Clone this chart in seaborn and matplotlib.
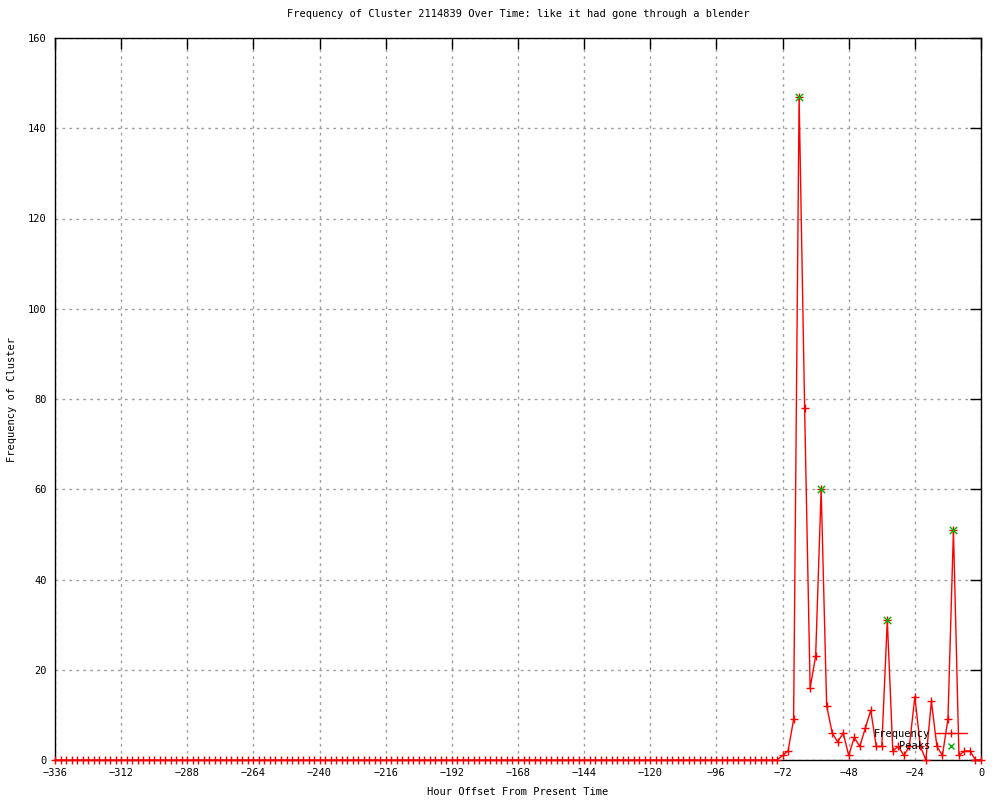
import matplotlib
matplotlib.use("Agg")
import matplotlib.pyplot as plt
from matplotlib.lines import Line2D
import numpy as np
import seaborn as sns

# hour offsets, sampled every 2 hours from two weeks back up to now
hours = np.arange(-336, 1, 2)
# nothing happens from -336 to -74
quiet_counts = [0] * 132
# -72 .. 0
burst_counts = [1, 2, 9, 147, 78, 16, 23, 60, 12, 6, 4, 6, 1, 5, 3, 7, 11, 3, 3,
                31, 2, 3, 1, 3, 14, 3, 0, 13, 3, 1, 9, 51, 1, 2, 2, 0, 0]
counts = quiet_counts + burst_counts

peak_hours = [-66, -58, -34, -10]
peak_counts = [147, 60, 31, 51]

title = "Frequency of Cluster 2114839 Over Time: like it had gone through a blender"
x_ticks = list(range(-336, 1, 24))
y_ticks = list(range(0, 161, 20))

sns.set_style("white")
plt.rcParams["font.family"] = ["DejaVu Sans Mono"]
plt.rcParams["font.size"] = 7.5
for k in ["text.color", "axes.labelcolor", "xtick.color", "ytick.color"]:
    plt.rcParams[k] = "black"

fig = plt.figure(figsize=(10, 8), dpi=100)
ax = fig.add_axes([0.055, 0.05, 0.926, 0.9025])

sns.lineplot(x=hours, y=counts, ax=ax, color="red", linewidth=1,
             marker="+", markersize=5.5, markeredgewidth=1, markeredgecolor="red",
             clip_on=False, zorder=3)
sns.scatterplot(x=peak_hours, y=peak_counts, ax=ax, marker="x", color="#00b000",
                s=28, linewidth=1, clip_on=False, zorder=4)

ax.set_xlim(-336, 0)
ax.set_ylim(0, 160)
ax.set_xticks(x_ticks)
ax.set_yticks(y_ticks)
ax.tick_params(direction="in", top=True, right=True, length=8, width=1,
               labelsize=7.5, pad=6)
ax.grid(True, color="#a0a0a0", linestyle=(0, (2, 3)), linewidth=1)
for s in ax.spines.values():
    s.set_color("black")
    s.set_linewidth(1)

ax.set_title(title, fontsize=7.5, pad=15)
ax.set_xlabel("Hour Offset From Present Time", fontsize=7.5, labelpad=6)
ax.set_ylabel("Frequency of Cluster", fontsize=7.5, labelpad=8)

handles = [
    Line2D([], [], color="red", linewidth=1, marker="+", markersize=5.5),
    Line2D([], [], color="#00b000", linestyle="none", marker="x", markersize=5),
]
ax.legend(handles, ["Frequency", "Peaks"], loc="lower right",
          bbox_to_anchor=(0.99, 0.005), markerfirst=False, frameon=False,
          handlelength=2.9, handletextpad=0.6, labelspacing=0.2,
          borderpad=0, fontsize=7.5)

fig.savefig("out.png", dpi=100)
